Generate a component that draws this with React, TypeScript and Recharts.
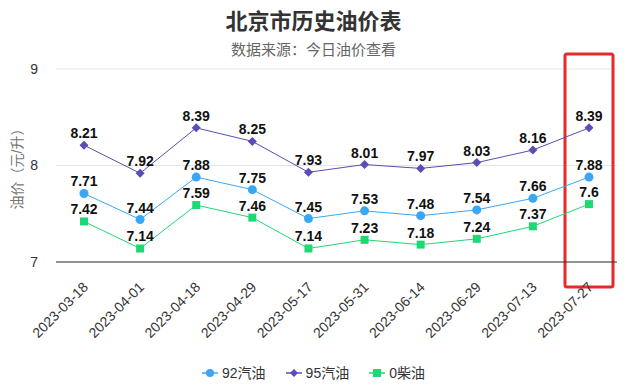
import React from 'react';
import { LineChart, Line, XAxis, YAxis, CartesianGrid, LabelList, ReferenceArea } from 'recharts';

const dates = ['2023-03-18', '2023-04-01', '2023-04-18', '2023-04-29', '2023-05-17', '2023-05-31', '2023-06-14', '2023-06-29', '2023-07-13', '2023-07-27'];
const gas92 = [7.71, 7.44, 7.88, 7.75, 7.45, 7.53, 7.48, 7.54, 7.66, 7.88];
const gas95 = [8.21, 7.92, 8.39, 8.25, 7.93, 8.01, 7.97, 8.03, 8.16, 8.39];
const diesel0 = [7.42, 7.14, 7.59, 7.46, 7.14, 7.23, 7.18, 7.24, 7.37, 7.6];
const yTicks = [7, 8, 9];
const seriesNames = ['92汽油', '95汽油', '0柴油'];
const colors = ['#3aa7f5', '#5a4db5', '#1fd873'];
const highlightDate = '2023-07-27';

const data = dates.map((d, i) => ({ date: d, g92: gas92[i], g95: gas95[i], d0: diesel0[i] }));

const FONT = '"Liberation Sans", Arial, "Noto Sans CJK SC", sans-serif';

const XTick = (props: any) => {
  const { x, y, payload } = props;
  return (
    <text x={x + 5} y={y + 18} transform={`rotate(-45, ${x + 5}, ${y + 18})`} textAnchor="end" fontSize={14} fill="#333" fontFamily={FONT}>
      {payload.value}
    </text>
  );
};

const Diamond = (props: any) => {
  const { cx, cy, fill } = props;
  if (cx == null || cy == null) return null;
  const r = 4.5;
  return <path d={`M${cx},${cy - r}L${cx + r},${cy}L${cx},${cy + r}L${cx - r},${cy}Z`} fill={fill} />;
};
const Square = (props: any) => {
  const { cx, cy, fill } = props;
  if (cx == null || cy == null) return null;
  return <rect x={cx - 4} y={cy - 4} width={8} height={8} fill={fill} />;
};
const Circle = (props: any) => {
  const { cx, cy, fill } = props;
  if (cx == null || cy == null) return null;
  return <circle cx={cx} cy={cy} r={4.5} fill={fill} />;
};

const HighlightBox = (props: any) => {
  const { x, y, width, height } = props;
  const cx = x + width / 2;
  return <rect x={cx - 24} y={y} width={48} height={height} fill="none" stroke="#e52a2a" strokeWidth={3} rx={2} />;
};

const labelStyle = { fontSize: 14, fontWeight: 700, fill: '#111', fontFamily: FONT };

const LegendIcon = ({ i, color }: { i: number; color: string }) => (
  <svg width={16} height={12} style={{ marginRight: 4, verticalAlign: 'middle' }}>
    <line x1={0} y1={6} x2={16} y2={6} stroke={color} strokeWidth={1.5} />
    {i === 0 && <circle cx={8} cy={6} r={4} fill={color} />}
    {i === 1 && <path d="M8,2L12,6L8,10L4,6Z" fill={color} />}
    {i === 2 && <rect x={4} y={2} width={8} height={8} fill={color} />}
  </svg>
);

export default function App() {
  return (
    <div style={{ position: 'absolute', left: 0, top: 0, width: 627, height: 390, background: '#fff', fontFamily: FONT }}>
      <div style={{ position: 'absolute', top: 7, left: 0, width: 627, textAlign: 'center', fontSize: 22, fontWeight: 700, color: '#333', lineHeight: '30px' }}>
        北京市历史油价表
      </div>
      <div style={{ position: 'absolute', top: 39, left: 0, width: 627, textAlign: 'center', fontSize: 15, color: '#666', lineHeight: '22px' }}>
        数据来源：今日油价查看
      </div>
      <div style={{ position: 'absolute', top: 0, left: 0 }}>
        <LineChart width={627} height={390} data={data} margin={{ top: 69, right: 10, left: 0, bottom: 38 }}>
          <CartesianGrid horizontal vertical={false} stroke="#e5e5e5" />
          <XAxis dataKey="date" height={90} interval={0} padding={{ left: 28, right: 28 }} tick={<XTick />} tickLine={false} axisLine={{ stroke: '#333' }} />
          <YAxis
            domain={[7, 9]}
            ticks={yTicks}
            width={56}
            axisLine={false}
            tickLine={false}
            tickSize={0}
            tickMargin={18}
            tick={{ fontSize: 14, fill: '#333', fontFamily: FONT }}
            label={{ value: '油价（元/升）', angle: -90, position: 'insideLeft', offset: 17, style: { textAnchor: 'middle', fontSize: 14, fill: '#777', fontFamily: FONT } }}
          />
          <Line type="linear" dataKey="g92" name={seriesNames[0]} stroke={colors[0]} strokeWidth={1} dot={<Circle fill={colors[0]} />} activeDot={false} isAnimationActive={false}>
            <LabelList dataKey="g92" position="top" offset={7} style={labelStyle} />
          </Line>
          <Line type="linear" dataKey="g95" name={seriesNames[1]} stroke={colors[1]} strokeWidth={1} dot={<Diamond fill={colors[1]} />} activeDot={false} isAnimationActive={false}>
            <LabelList dataKey="g95" position="top" offset={7} style={labelStyle} />
          </Line>
          <Line type="linear" dataKey="d0" name={seriesNames[2]} stroke={colors[2]} strokeWidth={1} dot={<Square fill={colors[2]} />} activeDot={false} isAnimationActive={false}>
            <LabelList dataKey="d0" position="top" offset={7} style={labelStyle} />
          </Line>
          <ReferenceArea x1={highlightDate} x2={highlightDate} y1={6.74} y2={9.155} ifOverflow="visible" shape={<HighlightBox />} />
        </LineChart>
      </div>
      <div style={{ position: 'absolute', top: 362, left: 0, width: 627, textAlign: 'center', fontSize: 14, color: '#333', lineHeight: '20px', whiteSpace: 'nowrap' }}>
        {seriesNames.map((n, i) => (
          <span key={n} style={{ marginLeft: i === 0 ? 0 : 20, display: 'inline-block' }}>
            <LegendIcon i={i} color={colors[i]} />
            <span style={{ verticalAlign: 'middle' }}>{n}</span>
          </span>
        ))}
      </div>
    </div>
  );
}
